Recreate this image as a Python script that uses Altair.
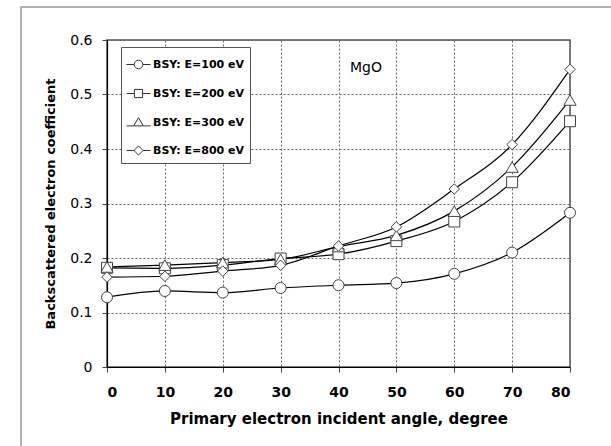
import altair as alt
import pandas as pd

angles = [0, 10, 20, 30, 40, 50, 60, 70, 80]
series_names = ["BSY: E=100 eV", "BSY: E=200 eV", "BSY: E=300 eV", "BSY: E=800 eV"]
bsy_100 = [0.128, 0.1395, 0.1365, 0.145, 0.150, 0.154, 0.171, 0.210, 0.283]
bsy_200 = [0.182, 0.181, 0.187, 0.199, 0.207, 0.231, 0.267, 0.339, 0.451]
bsy_300 = [0.1835, 0.187, 0.1915, 0.1975, 0.221, 0.2415, 0.286, 0.367, 0.490]
bsy_800 = [0.165, 0.1665, 0.176, 0.1866, 0.222, 0.257, 0.3266, 0.408, 0.546]
x_ticks = [0, 10, 20, 30, 40, 50, 60, 70, 80]
y_ticks = [0, 0.1, 0.2, 0.3, 0.4, 0.5, 0.6]
shapes = ["circle", "square", "triangle-up", "diamond"]
marker_sizes = [121, 121, 150, 110]

# legend symbols: short line with marker
legend_paths = [
    "M-1,0H-0.36M0.36,0H1M-0.36,0A0.36,0.36 0 1,0 0.36,0A0.36,0.36 0 1,0 -0.36,0Z",
    "M-1,0H-0.34M0.34,0H1M-0.34,-0.34H0.34V0.34H-0.34Z",
    "M-1,0.28H-0.4M0.4,0.28H1M0,-0.4L0.4,0.28H-0.4Z",
    "M-1,0H-0.38M0.38,0H1M0,-0.38L0.38,0L0,0.38L-0.38,0Z",
]

rows = []
for name, vals in zip(series_names, [bsy_100, bsy_200, bsy_300, bsy_800]):
    for a, v in zip(angles, vals):
        rows.append({"angle": a, "bsy": v, "series": name})
df = pd.DataFrame(rows)

W, H = 463, 327
FONT = "DejaVu Sans"

x_enc = alt.X("angle:Q", scale=alt.Scale(domain=[0, 80], nice=False),
              axis=alt.Axis(values=x_ticks, title="Primary electron incident angle, degree",
                            labelFontWeight="bold", labelFontSize=14, labelPadding=13,
                            titleFontSize=15, titleFontWeight="bold", titleBaseline="alphabetic",
                            titleY=56))
y_enc = alt.Y("bsy:Q", scale=alt.Scale(domain=[0, 0.6], nice=False),
              axis=alt.Axis(values=y_ticks, title="Backscattered electron coefficient",
                            labelFontSize=14, labelPadding=10, labelFontWeight="normal",
                            titleFontSize=13, titleFontWeight="bold", titleBaseline="middle",
                            titleX=-57, format="~g"))

base = alt.Chart(df)

frame = base.mark_rect(fill="transparent", stroke="#999999", strokeWidth=1.5).encode(
    x=alt.value(-86), x2=alt.value(520), y=alt.value(-33), y2=alt.value(420)
).transform_filter("datum.angle == 0 && datum.series == 'BSY: E=100 eV'")

lines = base.mark_line(color="black", strokeWidth=1.2, interpolate="monotone").encode(
    x=x_enc, y=y_enc, detail="series:N"
)

point_layers = []
for name, shp, sz in zip(series_names, shapes, marker_sizes):
    point_layers.append(
        base.transform_filter(alt.datum.series == name).mark_point(
            shape=shp, size=sz, filled=True, fill="white", stroke="#444444", strokeWidth=1, opacity=1
        ).encode(x="angle:Q", y="bsy:Q")
    )

legend_layer = base.transform_filter("false").mark_point(
    filled=False, color="#333333", strokeWidth=1, opacity=1
).encode(
    x="angle:Q", y="bsy:Q",
    shape=alt.Shape("series:N", scale=alt.Scale(domain=series_names, range=legend_paths),
                    legend=alt.Legend(title=None, orient="none", legendX=14, legendY=7,
                                      fillColor="white", strokeColor="#555555", padding=5,
                                      rowPadding=10, symbolSize=576, labelFont=FONT,
                                      labelFontSize=11, labelFontWeight="bold",
                                      labelOffset=2, labelLimit=200, symbolStrokeWidth=1,
                                      symbolStrokeColor="#333333"))
)

label = alt.Chart(pd.DataFrame({"t": ["MgO"]})).mark_text(
    font=FONT, fontSize=14, color="black", align="center", baseline="middle"
).encode(x=alt.value(259), y=alt.value(28), text="t:N")

chart = alt.layer(frame, lines, *point_layers, legend_layer, label).properties(
    width=W, height=H,
    autosize=alt.AutoSizeParams(type="none"),
    padding={"left": 107, "top": 40, "right": 41, "bottom": 79},
).configure(font=FONT, background="white").configure_axis(
    labelFont=FONT, titleFont=FONT, labelColor="black", titleColor="black",
    domainColor="black", domainWidth=1.2, tickColor="#444444", tickSize=5, tickWidth=1,
    gridColor="#666666", gridDash=[2, 2], gridWidth=1, grid=True,
).configure_view(stroke="#555555", strokeWidth=1.5)

chart.save("out.html", embed_options={"renderer": "svg", "actions": False})
